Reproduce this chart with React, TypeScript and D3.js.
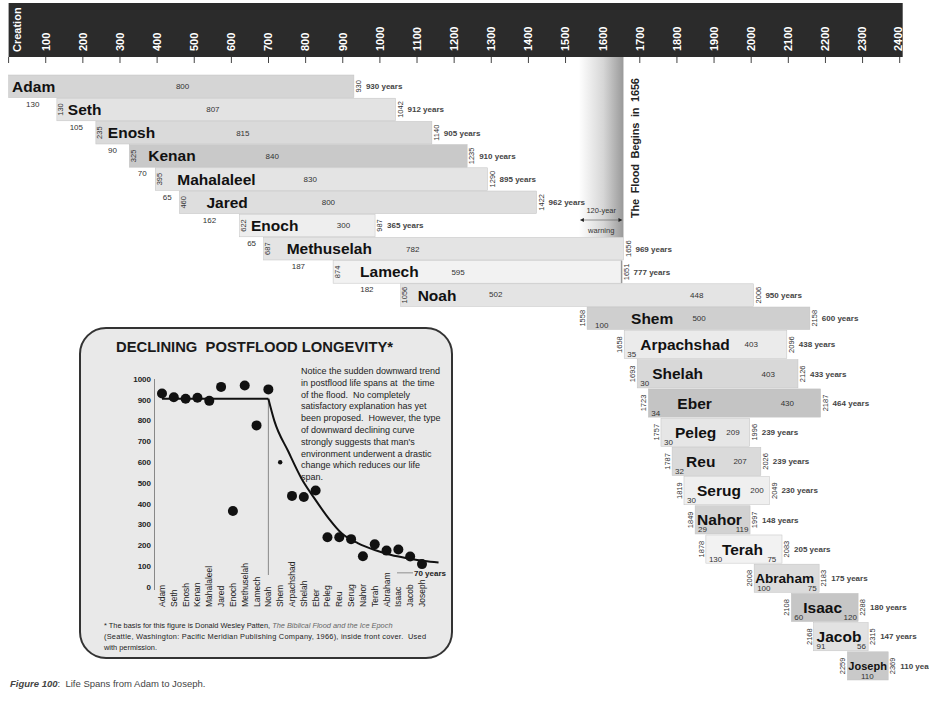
import React, { useEffect, useRef } from 'react';
import * as d3 from 'd3';

// Patriarchs, birth and death years (Anno Mundi)
const names = ['Adam', 'Seth', 'Enosh', 'Kenan', 'Mahalaleel', 'Jared', 'Enoch', 'Methuselah', 'Lamech', 'Noah',
  'Shem', 'Arpachshad', 'Shelah', 'Eber', 'Peleg', 'Reu', 'Serug', 'Nahor', 'Terah', 'Abraham', 'Isaac', 'Jacob', 'Joseph'];
const born = [0, 130, 235, 325, 395, 460, 622, 687, 874, 1056, 1558, 1658, 1693, 1723, 1757, 1787, 1819, 1849, 1878, 2008, 2108, 2168, 2259];
const died = [930, 1042, 1140, 1235, 1290, 1422, 987, 1656, 1651, 2006, 2158, 2096, 2126, 2187, 1996, 2026, 2049, 1997, 2083, 2183, 2288, 2315, 2369];
const lifespan = [930, 912, 905, 910, 895, 962, 365, 969, 777, 950, 600, 438, 433, 464, 239, 239, 230, 148, 205, 175, 180, 147, 110];
// age when the next name was born, and years lived after that
const ageAtSon = [130, 105, 90, 70, 65, 162, 65, 187, 182, 502, 100, 35, 30, 34, 30, 32, 30, 29, 130, 100, 60, 91, null];
const yearsAfter = [800, 807, 815, 840, 830, 800, 300, 782, 595, 448, 500, 403, 403, 430, 209, 207, 200, 119, 75, 75, 120, 56, 110];

const yearTicks = [100, 200, 300, 400, 500, 600, 700, 800, 900, 1000, 1100, 1200, 1300, 1400, 1500, 1600, 1700, 1800,
  1900, 2000, 2100, 2200, 2300, 2400];
const floodYear = 1656;
const warningYear = 1536;

// inset chart
const insetTicks = [0, 100, 200, 300, 400, 500, 600, 700, 800, 900, 1000];
const trendFlat = [[0, 905], [9, 905]];
const trendCurve = [[9, 905], [9.5, 800], [10.7, 650], [11.8, 522], [12.9, 426], [14.1, 330], [15.2, 258], [16.6, 210],
  [18, 178], [19.4, 154], [20.8, 138], [22.2, 125], [23.4, 118]];
const noteLines = [
  'Notice the sudden downward trend',
  'in postflood life spans at  the time',
  'of the flood.  No completely',
  'satisfactory explanation has yet',
  'been proposed.  However, the type',
  'of downward declining curve',
  "strongly suggests that man's",
  'environment underwent a drastic',
  'change which reduces our life',
  'span.',
];

// styling per row
const barFill = ['#d5d5d5', '#e3e3e3', '#dadada', '#c9c9c9', '#e4e4e4', '#dedede', '#eeeeee', '#e4e4e4', '#f2f2f2', '#e4e4e4',
  '#cfcfcf', '#ebebeb', '#d8d8d8', '#c4c4c4', '#e6e6e6', '#dadada', '#efefef', '#d2d2d2', '#f2f2f2', '#dcdcdc', '#c6c6c6', '#e2e2e2', '#c9c9c9'];
const nameDx = [3.5, 11, 12, 19, 22, 27, 11.5, 23, 27, 17, 44, 16, 15, 29, 14, 14, 13, 2, 16, 1, 12, 3, 1];
const nameSize = [15.5, 15.5, 15.5, 15.5, 15.5, 15.5, 15.5, 15.5, 15.5, 15.5, 15.5, 15.5, 15.5, 15.5, 15.5, 15.5, 15.5, 15.5, 15.5, 13.6, 15.5, 15.5, 11];
const afterDx = [174, 156, 147, 143, 155, 149, 104, 149, 125, 296, 112, 127, 131, 139, 72, 68, 73, 47, 66, 58, 59, 48, 20];

const FONT = "'Liberation Sans', Arial, Helvetica, sans-serif";

const App: React.FC = () => {
  const svgRef = useRef<SVGSVGElement>(null);

  useEffect(() => {
    if (!svgRef.current) return;
    const svg = d3.select(svgRef.current);
    svg.selectAll('*').remove();

    const root = svg.append('g').attr('font-family', FONT);

    const x = d3.scaleLinear().domain([0, 2400]).range([8.6, 899.7]);
    const rowY = d3.scaleLinear().domain([0, 10, 11, 23]).range([75, 307, 330.5, 681]);
    const n = names.length;

    // Timeline band
    root.append('rect')
      .attr('x', x(0)).attr('y', 3)
      .attr('width', x(2400) - x(0) + 3).attr('height', 54)
      .attr('fill', '#2b2b2b');

    root.selectAll('.tick-line')
      .data([0, ...yearTicks])
      .enter().append('line')
      .attr('x1', d => x(d)).attr('x2', d => x(d))
      .attr('y1', 57).attr('y2', 63)
      .attr('stroke', '#444').attr('stroke-width', 1);

    root.selectAll('.tick-label')
      .data(yearTicks)
      .enter().append('text')
      .attr('transform', d => `translate(${x(d) - (d === 2400 ? 2 : 0)},51) rotate(-90)`)
      .attr('dy', '0.35em')
      .attr('fill', '#fff')
      .attr('font-weight', 'bold')
      .attr('font-size', 11)
      .text(d => d);

    root.append('text')
      .attr('transform', `translate(${x(0) + 8.5},52) rotate(-90)`)
      .attr('dy', '0.35em')
      .attr('fill', '#fff')
      .attr('font-weight', 'bold')
      .attr('font-size', 11)
      .text('Creation');

    // Flood warning band
    const defs = root.append('defs');
    const grad = defs.append('linearGradient').attr('id', 'floodGrad')
      .attr('x1', 0).attr('x2', 1).attr('y1', 0).attr('y2', 0);
    grad.append('stop').attr('offset', '0%').attr('stop-color', '#ffffff');
    grad.append('stop').attr('offset', '55%').attr('stop-color', '#d6d6d6');
    grad.append('stop').attr('offset', '100%').attr('stop-color', '#999999');

    root.append('rect')
      .attr('x', x(warningYear)).attr('y', 57)
      .attr('width', x(floodYear) - x(warningYear))
      .attr('height', rowY(7) - 57)
      .attr('fill', 'url(#floodGrad)');

    // Bars
    const rows = root.append('g');
    names.forEach((name, i) => {
      const top = rowY(i);
      const h = rowY(i + 1) - top - (i >= 10 ? 1 : 0.6);
      const cy = top + h / 2;
      const bottom = top + h;
      const x0 = x(born[i]);
      const x1 = x(died[i]);
      const post = i >= 10;

      rows.append('rect')
        .attr('x', x0).attr('y', top)
        .attr('width', x1 - x0).attr('height', h)
        .attr('fill', barFill[i])
        .attr('stroke', '#c2c2c2').attr('stroke-width', 0.5);

      if (i === 8) {
        rows.append('line')
          .attr('x1', x1).attr('x2', x1).attr('y1', top).attr('y2', bottom)
          .attr('stroke', '#999').attr('stroke-width', 1.5);
      }

      rows.append('text')
        .attr('x', x0 + nameDx[i]).attr('y', cy)
        .attr('dy', '0.36em')
        .attr('font-weight', 'bold')
        .attr('font-size', nameSize[i])
        .attr('fill', '#111')
        .text(name);

      // birth year
      if (i > 0) {
        rows.append('text')
          .attr('transform', `translate(${post ? x0 - 4.5 : x0 + 4},${cy}) rotate(-90)`)
          .attr('text-anchor', 'middle')
          .attr('dy', '0.35em')
          .attr('font-size', 7.5)
          .attr('fill', '#333')
          .text(born[i]);
      }

      // death year and life span
      rows.append('text')
        .attr('transform', `translate(${x1 + 4.5},${cy}) rotate(-90)`)
        .attr('text-anchor', 'middle')
        .attr('dy', '0.35em')
        .attr('font-size', 7.5)
        .attr('fill', '#333')
        .text(died[i]);

      rows.append('text')
        .attr('x', x1 + 12).attr('y', cy)
        .attr('dy', '0.35em')
        .attr('font-size', 8)
        .attr('font-weight', 'bold')
        .attr('fill', '#444')
        .text(`${lifespan[i]} years`);

      // years lived after the son's birth
      const afterBottom = i >= 17;
      rows.append('text')
        .attr('x', x0 + afterDx[i])
        .attr('y', afterBottom ? bottom - 1.5 : cy)
        .attr('dy', afterBottom ? 0 : '0.35em')
        .attr('text-anchor', 'middle')
        .attr('font-size', 8)
        .attr('fill', '#333')
        .text(yearsAfter[i]);

      // age at son's birth
      const age = ageAtSon[i];
      if (age === null) return;
      if (i < 9) {
        rows.append('text')
          .attr('x', (x0 + x(born[i] + age)) / 2)
          .attr('y', rowY(i + 1) + 8.5)
          .attr('text-anchor', 'middle')
          .attr('font-size', 8)
          .attr('fill', '#333')
          .text(age);
      } else if (i === 9) {
        rows.append('text')
          .attr('x', x0 + 95).attr('y', cy - 1)
          .attr('dy', '0.35em')
          .attr('text-anchor', 'middle')
          .attr('font-size', 8)
          .attr('fill', '#333')
          .text(age);
      } else {
        rows.append('text')
          .attr('x', x0 + (i === 10 ? 8 : 3)).attr('y', bottom - 1.5)
          .attr('font-size', 8)
          .attr('fill', '#333')
          .text(age);
      }
    });

    // Flood annotation
    root.append('text')
      .attr('transform', `translate(${x(floodYear) + 12},218) rotate(-90)`)
      .attr('dy', '0.35em')
      .attr('font-weight', 'bold')
      .attr('font-size', 11)
      .attr('fill', '#222')
      .attr('textLength', 140)
      .style('white-space', 'pre')
      .text('The  Flood  Begins  in  1656');

    const wx0 = x(warningYear) + 1;
    const wx1 = x(floodYear) - 1;
    const wxm = (wx0 + wx1) / 2;
    root.append('text').attr('x', wxm).attr('y', 213).attr('text-anchor', 'middle')
      .attr('font-size', 7.5).attr('fill', '#333').text('120-year');
    root.append('text').attr('x', wxm).attr('y', 233).attr('text-anchor', 'middle')
      .attr('font-size', 7.5).attr('fill', '#333').text('warning');
    root.append('line').attr('x1', wx0 + 3).attr('x2', wx1 - 3).attr('y1', 220).attr('y2', 220)
      .attr('stroke', '#555').attr('stroke-width', 0.6);
    root.append('path').attr('d', `M${wx0},220 l4,-2 v4 z M${wx1},220 l-4,-2 v4 z`).attr('fill', '#222');

    // Inset chart
    const inset = root.append('g');
    inset.append('rect')
      .attr('x', 80).attr('y', 328).attr('width', 372).attr('height', 330)
      .attr('rx', 26)
      .attr('fill', '#e9e9e9')
      .attr('stroke', '#333').attr('stroke-width', 2);

    inset.append('text')
      .attr('x', 116).attr('y', 352)
      .attr('font-weight', 'bold').attr('font-size', 14.8)
      .attr('fill', '#1a1a1a')
      .style('white-space', 'pre')
      .text('DECLINING  POSTFLOOD LONGEVITY*');

    const ix = d3.scaleLinear().domain([0, n - 1]).range([162, 422]);
    const iy = d3.scaleLinear().domain([0, 1000]).range([587, 379]);

    inset.append('line')
      .attr('x1', 154.5).attr('x2', 154.5).attr('y1', iy(1000)).attr('y2', iy(0) + 3)
      .attr('stroke', '#888').attr('stroke-width', 1);

    inset.selectAll('.iy-label')
      .data(insetTicks)
      .enter().append('text')
      .attr('x', 151).attr('y', d => iy(d))
      .attr('dy', '0.35em')
      .attr('text-anchor', 'end')
      .attr('font-size', 8).attr('font-weight', 'bold')
      .attr('fill', '#222')
      .text(d => d);

    inset.selectAll('.ix-label')
      .data(names)
      .enter().append('text')
      .attr('transform', (d, i) => `translate(${ix(i)},607) rotate(-90)`)
      .attr('dy', '0.35em')
      .attr('font-size', 8.5)
      .attr('fill', '#222')
      .text(d => d);

    // Noah divider
    inset.append('line')
      .attr('x1', ix(9)).attr('x2', ix(9))
      .attr('y1', iy(905)).attr('y2', 575)
      .attr('stroke', '#888').attr('stroke-width', 1);

    const trendLine = d3.line<number[]>()
      .x(d => ix(d[0]))
      .y(d => iy(d[1]))
      .curve(d3.curveMonotoneX);

    inset.append('path')
      .datum(trendFlat)
      .attr('d', trendLine)
      .attr('fill', 'none').attr('stroke', '#111').attr('stroke-width', 2);
    inset.append('path')
      .datum(trendCurve)
      .attr('d', trendLine)
      .attr('fill', 'none').attr('stroke', '#111').attr('stroke-width', 2);

    inset.selectAll('.dot')
      .data(lifespan)
      .enter().append('circle')
      .attr('cx', (d, i) => ix(i))
      .attr('cy', d => iy(d))
      .attr('r', (d, i) => (i === 10 ? 2.2 : 5))
      .attr('fill', '#111');

    // 70 years marker
    inset.append('line')
      .attr('x1', 397).attr('x2', 413).attr('y1', iy(68)).attr('y2', iy(68))
      .attr('stroke', '#777').attr('stroke-width', 0.8);
    inset.append('text')
      .attr('x', 414).attr('y', iy(68)).attr('dy', '0.35em')
      .attr('font-size', 8).attr('font-weight', 'bold').attr('fill', '#222')
      .text('70 years');

    inset.selectAll('.note')
      .data(noteLines)
      .enter().append('text')
      .attr('x', 301).attr('y', (d, i) => 374 + i * 11.8)
      .attr('font-family', FONT)
      .attr('font-size', 9)
      .attr('fill', '#222')
      .style('white-space', 'pre')
      .text(d => d);

    const foot = inset.append('g').attr('font-size', 7.4).attr('fill', '#222').attr('font-family', FONT);
    const f1 = foot.append('text').attr('x', 104).attr('y', 628);
    f1.append('tspan').text('* The basis for this figure is Donald Wesley Patten, ');
    f1.append('tspan').attr('font-style', 'italic').attr('fill', '#666').text('The Biblical Flood and the Ice Epoch');
    foot.append('text').attr('x', 104).attr('y', 639).style('white-space', 'pre')
      .attr('textLength', 322)
      .text('(Seattle, Washington: Pacific Meridian Publishing Company, 1966), inside front cover.  Used');
    foot.append('text').attr('x', 104).attr('y', 650).text('with permission.');

    // Caption
    const cap = root.append('text').attr('x', 10).attr('y', 687).attr('font-size', 9.5).attr('fill', '#444')
      .style('white-space', 'pre');
    cap.append('tspan').attr('font-weight', 'bold').attr('font-style', 'italic').text('Figure 100');
    cap.append('tspan').text(':  Life Spans from Adam to Joseph.');
  }, []);

  return (
    <svg
      ref={svgRef}
      width={929}
      height={704}
      fontFamily={FONT}
      style={{ position: 'absolute', left: 0, top: 0, background: '#fff' }}
    />
  );
};

export default App;
